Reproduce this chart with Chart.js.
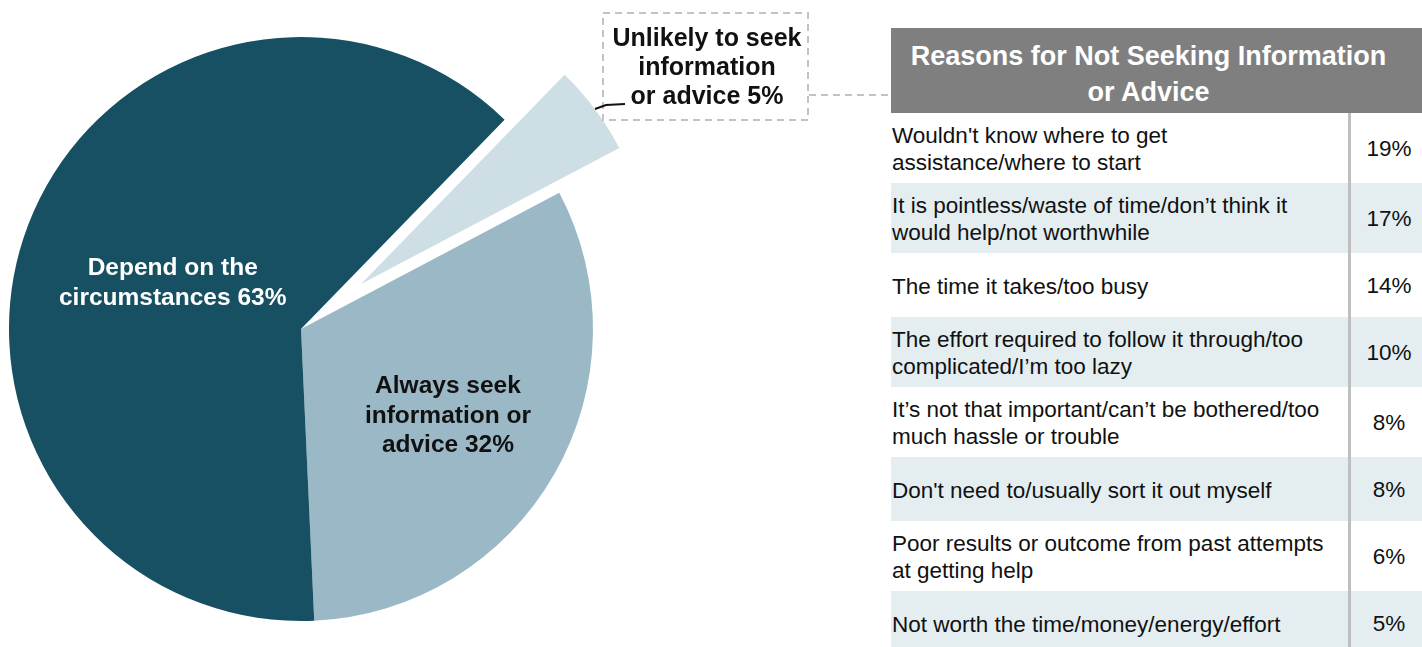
<!DOCTYPE html>
<html>
<head>
<meta charset="utf-8">
<script src="https://cdn.jsdelivr.net/npm/chart.js@4.4.0/dist/chart.umd.min.js"></script>
<style>
  html, body { margin: 0; padding: 0; background: #fff; overflow: hidden; }
  body { width: 1422px; height: 647px; position: relative; font-family: "Liberation Sans", Arial, sans-serif; }
  #pieWrap { position: absolute; left: 0; top: 0; width: 890px; height: 658px; }
  #reasons { position: absolute; left: 891px; top: 28px; width: 531px; }
  .head { background: #7f7f7f; color: #fff; font-weight: bold; font-size: 27px; line-height: 36px;
          text-align: center; height: 85px; box-sizing: border-box; padding: 10px 16px 0 0; }
  .row { display: flex; min-height: 64px; font-size: 22.5px; line-height: 27px; color: #111; }
  #rows .row:nth-child(even) { background: #e4eef1; }
  .txt { width: 457px; box-sizing: border-box; padding: 9px 0 7px 1px; display: flex; align-items: center; white-space: pre-line; }
  .val { flex: 1; border-left: 3px solid #bfbfbf; display: flex; align-items: center; justify-content: center; padding-left: 5px; }
</style>
</head>
<body>
<div id="pieWrap"><canvas id="pieChart"></canvas></div>
<div id="reasons">
  <div class="head" id="reasonsTitle"></div>
  <div id="rows"></div>
</div>
<script>
// pie data
var categories = ["Always seek\ninformation or\nadvice", "Depend on the\ncircumstances", "Unlikely to seek\ninformation\nor advice"];
var shares = [32, 63, 5];
var sliceColors = ["#9ab8c5", "#175062", "#cddee5"];
var labelColors = ["#111111", "#ffffff", "#111111"];

// table data
var tableTitle = "Reasons for Not Seeking Information\nor Advice";
var reasons = [
    "Wouldn't know where to get\nassistance/where to start",
    "It is pointless/waste of time/don\u2019t think it\nwould help/not worthwhile",
    "The time it takes/too busy",
    "The effort required to follow it through/too\ncomplicated/I\u2019m too lazy",
    "It\u2019s not that important/can\u2019t be bothered/too\nmuch hassle or trouble",
    "Don't need to/usually sort it out myself",
    "Poor results or outcome from past attempts\nat getting help",
    "Not worth the time/money/energy/effort"
];
var reasonShares = [19, 17, 14, 10, 8, 8, 6, 5];

// table
document.getElementById("reasonsTitle").innerText = tableTitle;
var rowsEl = document.getElementById("rows");
reasons.forEach(function (r, i) {
    var row = document.createElement("div");
    row.className = "row";
    var t = document.createElement("div");
    t.className = "txt";
    t.textContent = r;
    var v = document.createElement("div");
    v.className = "val";
    v.textContent = reasonShares[i] + "%";
    row.appendChild(t);
    row.appendChild(v);
    rowsEl.appendChild(row);
});

// how far each slice is pulled out, and where inside labels sit (fraction of radius)
var explode = [0, 0, 75];
var labelRadius = [0.58, 0.47, null];

var pieExtras = {
    id: "pieExtras",
    beforeDatasetDraw: function (chart, args) {
        var ctx = chart.ctx;
        args.meta.data.forEach(function (arc, i) {
            ctx.save();
            if (explode[i]) {
                var mid = (arc.startAngle + arc.endAngle) / 2;
                ctx.translate(Math.cos(mid) * explode[i], Math.sin(mid) * explode[i]);
            }
            arc.draw(ctx);
            ctx.restore();
        });
        return false;
    },
    afterDatasetsDraw: function (chart) {
        var ctx = chart.ctx;
        var arcs = chart.getDatasetMeta(0).data;
        ctx.save();
        ctx.textAlign = "center";
        ctx.textBaseline = "middle";
        arcs.forEach(function (arc, i) {
            var lines = (categories[i] + " " + shares[i] + "%").split("\n");
            if (labelRadius[i]) {
                var mid = (arc.startAngle + arc.endAngle) / 2;
                var cx = arc.x + Math.cos(mid) * arc.outerRadius * labelRadius[i];
                var cy = arc.y + Math.sin(mid) * arc.outerRadius * labelRadius[i] + 3;
                ctx.font = 'bold 24.5px "Liberation Sans", Arial, sans-serif';
                ctx.fillStyle = labelColors[i];
                lines.forEach(function (l, j) {
                    ctx.fillText(l, cx, cy + (j - (lines.length - 1) / 2) * 29.5);
                });
            } else {
                // callout box for the pulled-out slice
                ctx.strokeStyle = "#c3c3c3";
                ctx.lineWidth = 2;
                ctx.setLineDash([7, 5]);
                ctx.strokeRect(603, 13, 205, 107);
                ctx.beginPath();
                ctx.moveTo(809, 95);
                ctx.lineTo(890, 95);
                ctx.stroke();
                ctx.setLineDash([]);
                ctx.strokeStyle = "#111";
                ctx.beginPath();
                ctx.moveTo(595, 109);
                ctx.lineTo(606, 105);
                ctx.lineTo(625, 104);
                ctx.stroke();
                ctx.font = 'bold 25px "Liberation Sans", Arial, sans-serif';
                ctx.fillStyle = labelColors[i];
                lines.forEach(function (l, j) {
                    ctx.fillText(l, 707, 39 + j * 29);
                });
            }
        });
        ctx.restore();
    }
};

new Chart(document.getElementById("pieChart").getContext("2d"), {
    type: "pie",
    data: {
        labels: categories,
        datasets: [{
            data: shares,
            backgroundColor: sliceColors,
            borderWidth: 0
        }]
    },
    options: {
        responsive: true,
        maintainAspectRatio: false,
        animation: false,
        rotation: 62.2,
        radius: 292,
        layout: { padding: { left: 0, right: 288, top: 0, bottom: 0 } },
        plugins: {
            legend: { display: false },
            tooltip: { enabled: false }
        }
    },
    plugins: [pieExtras]
});
</script>
</body>
</html>
